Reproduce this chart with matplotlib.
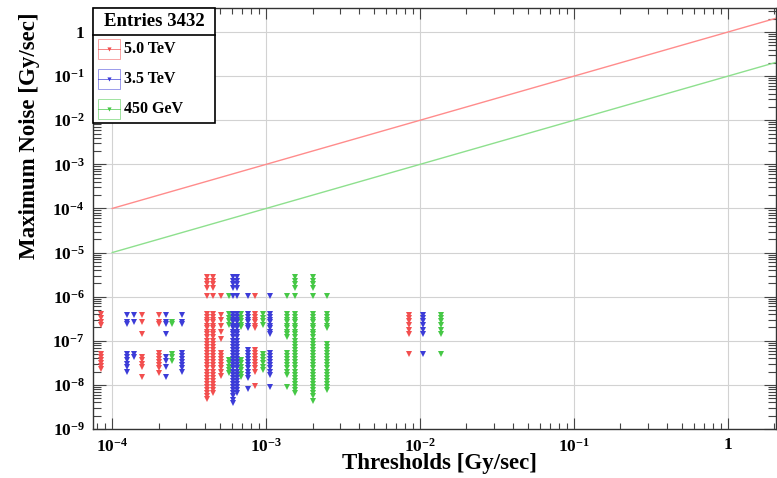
import math

import matplotlib
matplotlib.use('Agg')
import matplotlib.pyplot as plt
from matplotlib.patches import Rectangle
from matplotlib.lines import Line2D
from matplotlib.ticker import LogLocator, FixedLocator, FuncFormatter, NullFormatter

plt.rcParams['font.family'] = ['Liberation Serif', 'DejaVu Serif']
plt.rcParams['font.weight'] = 'bold'
plt.rcParams['mathtext.fontset'] = 'custom'
plt.rcParams['mathtext.rm'] = 'Liberation Serif:bold'
plt.rcParams['mathtext.it'] = 'Liberation Serif:bold'
plt.rcParams['mathtext.bf'] = 'Liberation Serif:bold'

# ─── data ────────────────────────────────────────────────────────────
# noise levels shared by the densely filled threshold columns
LEVELS = [4.0e-7, 3.5e-7, 3.0e-7, 2.6e-7, 2.2e-7, 1.9e-7, 1.6e-7, 1.4e-7,
          1.2e-7, 1.0e-7, 8.5e-8, 7.2e-8, 6.2e-8, 5.3e-8, 4.5e-8, 3.9e-8,
          3.3e-8, 2.8e-8, 2.4e-8, 2.0e-8, 1.7e-8, 1.45e-8, 1.25e-8, 1.05e-8,
          9.0e-9, 7.7e-9, 6.5e-9, 5.5e-9]
TOP = [2.8e-6, 2.3e-6, 1.9e-6, 1.6e-6, 1.05e-6]
HIGH_THR = [3.9e-7, 3.3e-7, 2.8e-7, 2.3e-7, 1.8e-7, 1.4e-7, 4.9e-8]

RED_THR = [8.5e-5, 1.55e-4, 2.0e-4, 4.1e-4, 4.5e-4, 5.1e-4, 8.5e-4, 8.5e-3]
RED_NOISE = [
    [4.0e-7, 3.2e-7, 2.7e-7, 2.3e-7, 5.0e-8, 4.3e-8, 3.7e-8, 3.2e-8, 2.7e-8, 2.3e-8],
    [3.9e-7, 2.7e-7, 1.4e-7, 4.4e-8, 3.7e-8, 2.9e-8, 2.5e-8, 1.5e-8],
    [3.9e-7, 2.7e-7, 2.4e-7, 5.4e-8, 4.6e-8, 3.9e-8, 3.3e-8, 2.8e-8, 2.4e-8, 1.9e-8],
    TOP + LEVELS + [4.7e-9],
    TOP + LEVELS[:27],
    [1.05e-6, 3.9e-7, 3.0e-7, 2.2e-7, 1.6e-7, 1.1e-7, 5.3e-8, 4.5e-8, 3.9e-8,
     3.3e-8, 2.8e-8, 2.4e-8, 2.0e-8, 1.6e-8],
    [1.05e-6] + LEVELS[:6] + LEVELS[12:20] + [9.5e-9],
    HIGH_THR,
]

BLUE_THR = [1.25e-4, 1.39e-4, 2.24e-4, 2.84e-4, 6.1e-4, 6.5e-4, 7.6e-4, 1.06e-3, 1.04e-2]
BLUE_NOISE = [
    [3.9e-7, 2.7e-7, 2.4e-7, 5.0e-8, 4.3e-8, 3.6e-8, 3.0e-8, 2.5e-8, 2.0e-8],
    [3.9e-7, 2.7e-7, 5.0e-8, 4.3e-8],
    [3.9e-7, 2.7e-7, 2.4e-7, 1.4e-7, 4.4e-8, 3.4e-8, 2.6e-8, 1.5e-8],
    [3.9e-7, 2.7e-7, 2.4e-7, 5.4e-8, 4.6e-8, 3.9e-8, 3.3e-8, 2.8e-8, 2.4e-8, 2.0e-8],
    TOP + LEVELS + [4.5e-9, 3.9e-9],
    TOP + LEVELS[:27],
    [1.05e-6] + LEVELS[:6] + LEVELS[12:22] + [8.0e-9],
    [1.05e-6] + LEVELS[:8] + LEVELS[13:21] + [9.0e-9],
    HIGH_THR,
]

GREEN_THR = [2.44e-4, 5.76e-4, 6.9e-4, 9.5e-4, 1.36e-3, 1.54e-3, 2.0e-3, 2.48e-3, 1.36e-2]
GREEN_NOISE = [
    [2.7e-7, 2.4e-7, 5.0e-8, 4.3e-8, 3.4e-8],
    [1.05e-6, 4.0e-7, 3.3e-7, 2.8e-7, 2.3e-7, 3.7e-8, 3.1e-8, 2.6e-8, 2.2e-8, 1.9e-8],
    [4.0e-7, 3.3e-7, 2.8e-7, 2.3e-7, 2.0e-7, 3.7e-8, 3.1e-8, 2.6e-8, 2.2e-8, 1.8e-8, 1.5e-8],
    [4.0e-7, 3.3e-7, 2.8e-7, 2.3e-7, 5.0e-8, 4.2e-8, 3.6e-8, 3.1e-8, 2.6e-8, 2.2e-8],
    [1.05e-6] + LEVELS[:9] + LEVELS[13:21] + [9.0e-9],
    TOP + LEVELS[:27],
    TOP + LEVELS + [4.4e-9],
    [1.05e-6] + LEVELS[:6] + LEVELS[10:26],
    HIGH_THR,
]

# threshold lines (max noise = threshold, threshold / 10)
LINE_X = [1e-4, 2.1]
RED_LINE_Y = [1e-4, 2.1]
GREEN_LINE_Y = [1e-5, 0.21]

# decade ticks shown on the axes
X_TICKS = [1e-4, 1e-3, 1e-2, 1e-1, 1]
Y_TICKS = [1e-9, 1e-8, 1e-7, 1e-6, 1e-5, 1e-4, 1e-3, 1e-2, 1e-1, 1]

LABELS = ['5.0 TeV', '3.5 TeV', '450 GeV']
RED, BLUE, GREEN = '#f24f4f', '#3c3cd8', '#46c846'

W, H = 777, 478


def fx(px):
    return px / W


def fy(py):
    return 1 - py / H


def fmt(v, pos):
    e = int(round(math.log10(v)))
    return '1' if e == 0 else r'$10^{%d}$' % e


def main():
    fig = plt.figure(figsize=(W / 100, H / 100), dpi=100)
    ax = fig.add_axes([fx(93), fy(429), fx(776) - fx(93), fy(8) - fy(429)])
    ax.set_xscale('log')
    ax.set_yscale('log')
    ax.set_xlim(7.5e-5, 2.05)
    ax.set_ylim(1e-9, 3.5)

    ax.plot(LINE_X, RED_LINE_Y, color='#ff8c8c', lw=1.0, zorder=2)
    ax.plot(LINE_X, GREEN_LINE_Y, color='#8ee08e', lw=1.0, zorder=2)

    for thr, noise, col in [(GREEN_THR, GREEN_NOISE, GREEN),
                            (RED_THR, RED_NOISE, RED),
                            (BLUE_THR, BLUE_NOISE, BLUE)]:
        for t, vals in zip(thr, noise):
            ax.plot([t] * len(vals), vals, 'v', color=col, markersize=4.4,
                    markeredgewidth=0, zorder=3)

    # ─── axes styling (ROOT-like) ─────────────────────────────────
    ax.xaxis.set_major_locator(FixedLocator(X_TICKS))
    ax.yaxis.set_major_locator(FixedLocator(Y_TICKS))
    for axis in (ax.xaxis, ax.yaxis):
        axis.set_minor_locator(LogLocator(base=10, subs=range(2, 10), numticks=20))
        axis.set_major_formatter(FuncFormatter(fmt))
        axis.set_minor_formatter(NullFormatter())

    ax.tick_params(axis='both', which='both', direction='in', top=True, right=True,
                   color='#444444', width=0.8, labelsize=12.5)
    ax.tick_params(axis='x', which='major', length=8, pad=6)
    ax.tick_params(axis='x', which='minor', length=4)
    ax.tick_params(axis='y', which='major', length=9, pad=6)
    ax.tick_params(axis='y', which='minor', length=6)
    ax.grid(True, which='major', color='#d2d2d2', lw=0.8)
    for s in ax.spines.values():
        s.set_color('#333333')
        s.set_linewidth(1.0)

    fig.text(fx(439), fy(464), 'Thresholds [Gy/sec]', ha='center', va='center',
             fontsize=16.5, fontweight='bold')
    fig.text(fx(30), fy(136), 'Maximum Noise [Gy/sec]', ha='center', va='center',
             rotation=90, fontsize=16.5, fontweight='bold')

    # ─── legend box (drawn by hand to mimic ROOT's TLegend) ─────────
    tr = fig.transFigure
    fig.patches.append(Rectangle((fx(93), fy(123)), fx(215) - fx(93), fy(8) - fy(123),
                                 transform=tr, facecolor='white', edgecolor='black',
                                 lw=1.2, zorder=10))
    fig.lines.append(Line2D([fx(93), fx(215)], [fy(35), fy(35)], transform=tr,
                            color='black', lw=1.2, zorder=11))
    fig.text(fx(154), fy(22), 'Entries 3432', ha='center', va='center',
             fontsize=13.5, fontweight='bold', zorder=12)
    for i, (lab, col) in enumerate(zip(LABELS, [RED, BLUE, GREEN])):
        yc = 49 + 30 * i
        fig.patches.append(Rectangle((fx(98), fy(yc + 10)), fx(120) - fx(98),
                                     fy(yc - 10) - fy(yc + 10), transform=tr,
                                     facecolor='none', edgecolor=col, lw=0.6,
                                     alpha=0.6, zorder=11))
        fig.lines.append(Line2D([fx(98), fx(120)], [fy(yc), fy(yc)], transform=tr,
                                color=col, lw=0.7, alpha=0.7, zorder=11))
        fig.lines.append(Line2D([fx(109)], [fy(yc)], transform=tr, marker='v',
                                color=col, markersize=3, markeredgewidth=0, zorder=12))
        fig.text(fx(124), fy(yc), lab, ha='left', va='center', fontsize=11.5,
                 fontweight='bold', zorder=12)

    fig.savefig('out.png', dpi=100)
    plt.close(fig)


if __name__ == '__main__':
    main()
